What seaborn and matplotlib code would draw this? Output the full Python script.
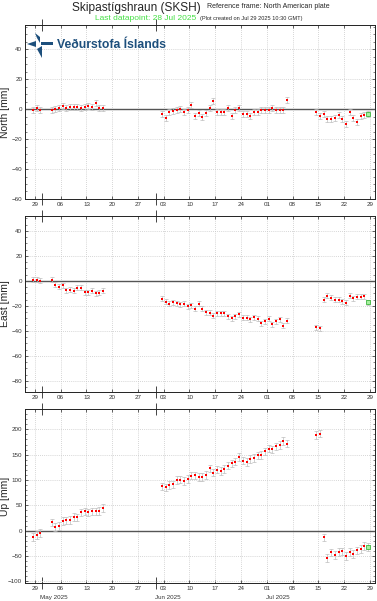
import numpy as np
import pandas as pd
import matplotlib
matplotlib.use('Agg')
import matplotlib.pyplot as plt
import matplotlib.dates as mdates
import matplotlib.transforms as mtransforms
from matplotlib.ticker import MultipleLocator, AutoMinorLocator
from matplotlib.patches import Polygon
import seaborn as sns

## daily solutions (noon), grouped in the blocks that have data
date_blocks = [("2025-04-28", "2025-04-30"), ("2025-05-03", "2025-05-17"),
               ("2025-06-02", "2025-07-06"), ("2025-07-14", "2025-07-28")]

north = [-0.5, 1.0, -0.7,
         -0.5, -0.2, 0.5, 1.8, 0.9, 1.5, 1.5, 1.3, 0.7, 1.3, 2.2, 1.3, 4.0, 0.7, 0.5,
         -3.1, -5.8, -2.2, -1.3, -0.9, -0.2, -1.8, -0.7, 2.7, -4.5, -2.5, -5.5, -2.4, 0.5,
         5.3, -1.8, -1.8, -1.8, 1.0, -4.4, -0.7, 0.7, -3.3, -3.3, -4.7, -1.8, -1.8, -0.5,
         -0.5, -0.5, 0.5, -0.5, -0.9, -0.5, 5.8,
         -2.0, -4.4, -3.3, -6.7, -6.9, -6.0, -3.8, -6.9, -9.8, -2.0, -5.8, -8.7, -4.9, -4.0, -3.3]

east = [0.8, 0.8, 0.0,
        0.8, -2.9, -4.8, -3.5, -7.5, -6.9, -7.7, -5.6, -5.3, -9.1, -9.1, -8.0, -9.9, -9.3, -7.7,
        -14.1, -16.5, -18.1, -17.1, -17.9, -18.9, -18.4, -20.5, -19.5, -22.4, -18.4, -22.4,
        -25.0, -25.6, -28.0, -26.1, -25.9, -25.9, -28.3, -29.9, -28.3, -26.7, -29.6, -29.6,
        -30.9, -29.3, -30.4, -34.1, -32.5, -30.4, -34.7, -32.5, -30.9, -36.0, -32.0,
        -37.3, -37.9, -15.2, -11.7, -13.3, -14.9, -15.2, -16.3, -17.6, -12.0, -13.9, -12.8,
        -12.8, -12.3, -17.1]

up = [-11.8, -8.6, -4.6,
      16.4, 7.9, 9.2, 19.7, 20.4, 21.7, 27.0, 26.3, 36.2, 38.2, 36.2, 38.2, 38.2, 39.5, 44.7,
      87.5, 85.5, 90.1, 91.4, 100.0, 100.7, 98.0, 102.0, 108.6, 109.2, 105.9, 105.9, 109.9,
      123.0, 114.5, 120.4, 117.8, 121.7, 128.3, 132.9, 136.2, 145.4, 138.2, 135.5, 141.4,
      143.4, 148.7, 149.3, 156.6, 161.8, 160.5, 166.4, 169.1, 177.0, 171.7,
      188.2, 191.4, -13.2, -54.0, -42.8, -48.0, -41.4, -40.8, -50.0, -42.1, -45.4, -38.8,
      -36.2, -29.6, -31.6]

err_north, err_east, err_up = 2.0, 2.0, 7.5

components = ["North", "East", "Up"]
ylims = {"North": (-60, 56), "East": (-89, 52), "Up": (-103, 240)}
ysteps = {"North": (20, 4), "East": (20, 4), "Up": (50, 5)}
months = ["2025-05-04", "2025-06-04", "2025-07-04"]
month_labels = ["May 2025", "Jun 2025", "Jul 2025"]

################################################
dates = pd.DatetimeIndex(np.concatenate(
    [pd.date_range(a, b, freq='D') for a, b in date_blocks])) + pd.Timedelta(hours=12)
df = pd.DataFrame({"date": dates, "North": north, "East": east, "Up": up})
errs = {"North": err_north, "East": err_east, "Up": err_up}

sns.set_style('ticks')
plt.rcParams['font.family'] = ['Liberation Sans', 'DejaVu Sans']

W, H = 377, 601
fig = plt.figure(figsize=(W / 100, H / 100), dpi=100)

def px(x, y):
  return x / W, 1 - y / H

## axes boxes in pixels: (top, bottom)
boxes = [(25, 199), (216, 392), (409, 583)]
left, right = 25, 375
axes = []
for (top, bot) in boxes:
  axes.append(fig.add_axes([left / W, 1 - bot / H, (right - left) / W, (bot - top) / H]))

xmin = pd.Timestamp("2025-04-26 07:00")
xmax = pd.Timestamp("2025-07-30 10:00")

for ax, comp in zip(axes, components):
  d = df[["date", comp]]
  ax.errorbar(d["date"], d[comp], yerr=errs[comp], fmt='none', ecolor='#bdbdbd',
              elinewidth=0.5, capsize=1.2, capthick=0.5, zorder=2)
  sns.scatterplot(x=d["date"].iloc[:-1], y=d[comp].iloc[:-1], ax=ax, marker='s', s=3,
                  color='red', linewidth=0, zorder=3)
  sns.scatterplot(x=d["date"].iloc[-1:], y=d[comp].iloc[-1:], ax=ax, marker='s', s=6,
                  color='#a8f0a0', edgecolor='#22aa22', linewidth=0.5, zorder=4)
  ax.axhline(0, color='#555555', lw=1.0, zorder=1)

  ax.set_xlim(xmin, xmax)
  ax.set_ylim(*ylims[comp])
  ax.xaxis.set_major_locator(mdates.WeekdayLocator(byweekday=mdates.TU))
  ax.xaxis.set_major_formatter(mdates.DateFormatter('%d'))
  ax.xaxis.set_minor_locator(mdates.MonthLocator())
  ax.yaxis.set_major_locator(MultipleLocator(ysteps[comp][0]))
  ax.yaxis.set_minor_locator(AutoMinorLocator(ysteps[comp][1]))

  ax.tick_params(axis='x', which='major', direction='in', length=2.5, width=0.5,
                 top=True, labelsize=4.5, labelcolor='#333333', pad=2)
  ax.tick_params(axis='x', which='minor', direction='inout', length=8, width=0.6, top=True)
  ax.tick_params(axis='y', which='major', direction='in', length=2.5, width=0.5,
                 right=True, labelsize=4.5, labelcolor='#333333', pad=2)
  ax.tick_params(axis='y', which='minor', direction='in', length=1.5, width=0.4, right=True)
  ax.grid(True, which='major', ls=(0, (1, 1.5)), color='#c8c8c8', lw=0.6)
  for s in ax.spines.values():
    s.set_linewidth(0.7)
    s.set_color('#222222')

  ax.set_xlabel('')
  ax.set_ylabel(comp + ' [mm]', fontsize=7.5)
  ax.yaxis.set_label_coords(-0.043, 0.5)

## month labels under last panel
trans = mtransforms.blended_transform_factory(axes[-1].transData, axes[-1].transAxes)
for m, lab in zip(months, month_labels):
  axes[-1].text(pd.Timestamp(m), -0.082, lab, transform=trans, ha='center', va='center',
                fontsize=4.5, color='#333333')

## header
fig.text(*px(136, 8), 'Skipastígshraun (SKSH)', ha='center', va='center', fontsize=8.6)
fig.text(*px(207, 6), 'Reference frame: North American plate', ha='left', va='center',
         fontsize=5)
fig.text(*px(145.5, 18), 'Last datapoint: 28 Jul 2025', ha='center', va='center',
         fontsize=6, color='#44e044')
fig.text(*px(200, 18.5), '(Plot created on Jul 29 2025 10:30 GMT)', ha='left', va='center',
         fontsize=4.1)

## logo
blue = '#1d4f7c'
fig.text(*px(57, 45), 'Veðurstofa Íslands', ha='left', va='center', fontsize=8.8,
         fontweight='bold', color=blue, family=['Liberation Sans Narrow', 'Liberation Sans'])
shapes = [[(35, 33), (40, 37), (40, 43), (37, 38)],
          [(27, 44), (36, 41), (36, 47)],
          [(41, 42), (53, 42), (53, 45), (41, 45)],
          [(37, 49), (42, 46), (42, 58)]]
for sh in shapes:
  fig.patches.append(Polygon([px(x, y) for x, y in sh], closed=True, transform=fig.transFigure,
                             facecolor=blue, edgecolor='none'))

plt.savefig('out.png', dpi=100)
